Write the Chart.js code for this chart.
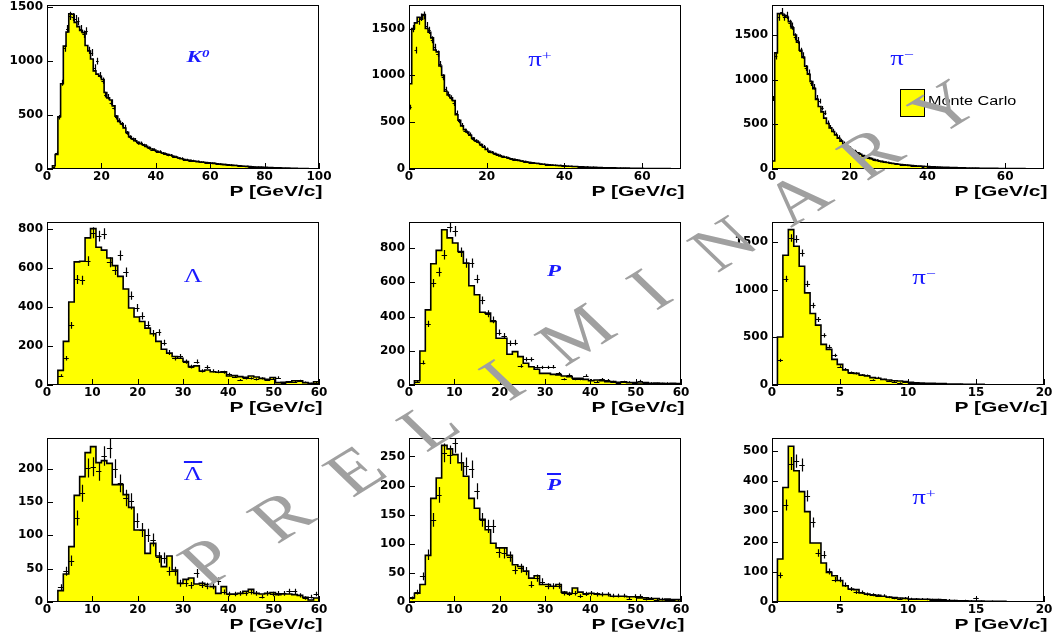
<!DOCTYPE html>
<html>
<head>
<meta charset="utf-8">
<script src="https://cdn.jsdelivr.net/npm/chart.js@4.4.1/dist/chart.umd.min.js"></script>
<style>
    html, body { margin: 0; padding: 0; background: #fff; }
    #page { position: relative; width: 1063px; height: 636px; overflow: hidden; }
    #page canvas { position: absolute; }
    .lbl { position: absolute; color: #1a1aff; line-height: 1; white-space: nowrap;
           transform: translate(-50%, -50%) scaleX(1.35); }
    .kin { font: italic bold 17px "Liberation Serif", serif; }
    .pi  { font: 20px "Liberation Serif", serif; }
    .lam { font: 19px "Liberation Serif", serif; }
    .lbl sup { font-size: 0.65em; vertical-align: 0.45em; line-height: 0; }
    .bar { text-decoration: overline; text-decoration-thickness: 2px; }
    .xt { position: absolute; font: bold 15px "Liberation Sans", Arial, sans-serif; white-space: nowrap;
          transform: translateY(-50%) scaleX(1.4); transform-origin: right center; }
    #mcBox { position: absolute; left: 900px; top: 89px; width: 23px; height: 26px;
             background: #ffff00; border: 1px solid #000; }
    #mcText { position: absolute; left: 928px; top: 101px; font: 12px "Liberation Sans", Arial, sans-serif;
              transform: translateY(-50%) scaleX(1.35); transform-origin: left center; white-space: nowrap; }
    #wm { position: absolute; display: flex; height: 60px; line-height: 60px;
          font: 62px "Liberation Serif", serif; color: #a0a0a0;
          transform: scaleX(1.3) rotate(-38.7deg); transform-origin: center; pointer-events: none; }
    #wm span { display: block; text-align: center; }
</style>
</head>
<body>
<div id="page"></div>
<script>
// ---- 값 (히스토그램 = Monte Carlo, 데이터 = 측정값) ----
const k0Hist = [0,0,30,135,485,790,1140,1270,1440,1435,
    1360,1320,1285,1265,1145,1095,1020,910,880,860,
    830,710,660,640,585,490,440,420,380,340,
    300,280,262,248,235,225,210,198,185,175,
    165,158,148,140,133,127,118,110,102,95,
    88,84,80,76,72,68,65,62,59,57,
    55,52,49,46,43,41,38,36,34,32,
    30,28,26,24,22,21,19,18,17,16,
    15,14,13,12,11,10,9,8,8,7,
    6,6,5,5,4,4,3,3,3,2];
const k0Data = [0,0,20,150,480,800,1120,1300,1420,1410,
    1390,1370,1300,1250,1280,1100,1080,940,1000,870,
    820,690,670,615,570,480,450,415,390,335,
    295,275,270,240,240,220,215,195,180,178,
    160,162,145,142,130,128,115,112,100,98,
    85,86,78,78,70,70,63,63,58,58,
    53,53,48,47,42,42,37,37,33,33,
    29,29,25,25,21,21,18,19,16,17,
    14,15,12,13,10,11,8,9,7,8,
    5,7,4,6,3,5,2,4,2,3];

const pipTopHist = [910,1500,1560,1620,1600,1650,1500,1460,1400,1270,
    1250,1100,1000,830,790,760,730,580,520,460,
    420,395,360,330,305,285,260,235,210,190,
    178,165,155,140,132,126,118,110,103,97,
    90,85,80,74,70,66,62,58,54,50,
    48,46,43,40,38,36,34,32,30,29,
    27,26,24,23,22,20,19,18,17,16,
    15,14,14,13,12,12,11,10,10,9,
    9,8,8,7,7,7,6,6,6,5,
    5,5,4,4,4,4,3,3,3,3];
const pipTopData = [660,1500,1270,1580,1620,1640,1530,1480,1380,1300,
    1230,1120,980,850,800,760,700,600,510,470,
    410,390,370,320,300,290,255,240,215,185,
    180,160,150,145,130,125,120,108,100,95,
    92,83,80,75,68,67,60,60,52,52,
    46,47,42,42,38,38,35,35,31,30,
    28,28,25,26,22,24,20,21,18,18,
    16,16,14,15,13,13,11,12,10,10,
    9,9,8,8,6,8,6,7,5,6,
    5,5,4,4,4,4,3,3,3,3];

const pimTopHist = [90,1300,1740,1740,1720,1700,1650,1580,1500,1420,
    1330,1250,1150,1060,980,900,780,700,640,570,
    510,460,420,380,345,310,280,255,230,210,
    195,180,165,150,138,126,116,106,97,90,
    83,77,72,67,62,58,54,50,47,44,
    41,38,36,34,32,30,28,27,25,24,
    22,21,20,19,18,17,16,15,14,13,
    13,12,11,11,10,10,9,9,8,8,
    7,7,7,6,6,6,5,5,5,4,
    4,4,4,3,3,3,3,3,2,2];
const pimTopData = [790,1260,1700,1760,1700,1720,1630,1600,1480,1440,
    1320,1270,1130,1080,960,920,800,760,680,630,
    520,470,430,390,360,320,290,260,240,215,
    200,175,170,145,140,122,118,104,99,88,
    85,75,73,65,63,57,55,49,48,43,
    42,37,37,31,31,27,28,24,25,21,
    22,19,20,17,18,15,16,13,14,12,
    13,11,11,10,10,9,9,8,8,7,
    7,7,6,6,6,5,5,5,4,4,
    4,4,3,3,3,3,3,2,2,2];

const lamHist = [0,0,75,223,425,630,633,753,800,705,
    690,650,611,556,491,394,348,325,291,262,
    223,183,163,146,137,120,94,98,72,77,
    68,65,67,46,48,43,39,46,41,34,
    29,38,12,14,17,22,21,12,9,17];
const lamData = [0,0,48,137,305,540,536,634,779,762,
    774,628,587,663,577,457,394,354,308,265,
    269,217,166,137,146,120,94,120,72,91,
    72,68,65,55,43,26,34,34,29,34,
    26,33,38,12,15,17,22,14,9,12];

const protHist = [0,25,199,439,708,786,907,859,829,780,
    712,580,527,425,420,371,273,273,180,195,
    166,127,107,92,68,68,62,59,53,49,
    39,39,33,25,29,25,20,20,16,18,
    14,14,12,14,10,12,10,8,10,8];
const protData = [0,20,131,357,595,660,761,923,898,775,
    712,712,619,494,416,380,306,287,244,248,
    111,150,150,107,103,103,107,68,33,59,
    33,33,55,29,20,35,29,20,14,20,
    18,10,25,14,12,10,10,12,8,6];

const pimHist = [0,502,1359,1627,1453,1244,965,749,627,425,
    373,268,216,157,129,122,105,94,77,70,
    59,52,45,42,35,28,24,21,17,17,
    14,14,10,10,10,7,7,7,7,3,
    3,3,3,2,2,2,2,1,1,1];
const pimData = [0,258,1111,1540,1530,1383,1059,833,686,519,
    401,310,192,164,129,122,105,101,52,77,
    59,42,35,24,31,24,17,17,14,10,
    14,10,7,7,10,7,3,7,3,3,
    7,3,3,7,3,2,2,1,2,1];

const alamHist = [0,0,17,42,83,160,188,224,233,209,
    212,208,176,176,161,142,108,108,73,88,
    69,53,69,48,28,34,36,27,28,26,
    23,13,23,12,12,13,16,19,13,12,
    13,14,11,12,12,11,10,7,3,6];
const alamData = [0,0,22,46,62,126,163,201,203,196,
    219,231,200,178,156,151,122,108,100,93,
    67,66,46,46,28,28,25,43,26,24,
    24,31,15,12,12,13,13,15,13,8,
    13,12,13,13,16,16,10,6,8,12];

const aprotHist = [7,15,30,80,178,213,269,263,253,239,
    216,178,161,142,124,101,93,93,80,64,
    61,53,41,45,30,30,27,30,17,15,
    24,17,14,15,14,13,13,10,10,10,
    9,9,7,7,6,6,4,5,4,4];
const aprotData = [7,17,44,81,141,184,256,253,273,241,
    233,228,190,141,130,130,85,84,78,55,
    58,53,30,41,35,27,27,28,15,14,
    15,10,14,15,13,13,13,11,11,11,
    6,10,10,5,6,4,5,3,3,2];

const pipHist = [0,142,379,515,434,365,299,195,195,129,
    98,87,71,54,43,41,30,26,24,22,
    19,16,15,13,12,10,10,9,9,8,
    8,7,5,5,4,4,3,3,3,2,
    2,2,2,1,1,1,1,1,1,1];
const pipData = [0,88,321,458,466,453,351,263,162,156,
    101,74,74,57,43,32,32,26,24,21,
    21,16,13,11,13,11,10,10,9,8,
    8,5,7,5,4,5,4,13,3,2,
    3,2,2,1,2,1,1,1,0,1];

// 패널 순서: K0, pi+, pi- / Lambda, p, pi- / anti-Lambda, anti-p, pi+
const histograms = [k0Hist, pipTopHist, pimTopHist, lamHist, protHist, pimHist, alamHist, aprotHist, pipHist];
const measured   = [k0Data, pipTopData, pimTopData, lamData, protData, pimData, alamData, aprotData, pipData];
const binWidths  = [1.0, 0.7, 0.7, 1.2, 1.2, 0.4, 1.2, 1.2, 0.4];
const xMaxes     = [100, 70, 70, 60, 60, 20, 60, 60, 20];
const yMaxes     = [1521, 1751, 1836, 834, 952, 1707, 246, 281.6, 542.5];
const xSteps     = [20, 20, 20, 10, 10, 5, 10, 10, 5];
const ySteps     = [500, 500, 500, 200, 200, 500, 50, 50, 100];
const particleLabels = ['K<sup>0</sup>', 'π<sup>+</sup>', 'π<sup>−</sup>',
    'Λ', 'P', 'π<sup>−</sup>',
    '<span class="bar">Λ</span>', '<span class="bar">P</span>', 'π<sup>+</sup>'];
const xTitle = 'P [GeV/c]';
const legendText = 'Monte Carlo';
const watermark = 'PRELIMINARY';

// ---- 배치 ----
const colX = [[47, 319], [409, 681], [772, 1044]];
const rowY = [[5, 169], [222, 385], [438, 602]];
const labelPos = [[198, 57], [540, 59], [902, 58], [193, 276], [554, 271], [924, 277], [193, 474], [554, 485], [924, 497]];
const labelCls = ['kin', 'pi', 'pi', 'lam', 'kin', 'pi', 'lam', 'kin', 'pi'];
const AX_W = 46, AX_H = 20, PAD_T = 8, PAD_R = 20;

const page = document.getElementById('page');
const tickFont = { family: '"DejaVu Sans", sans-serif', size: 12, weight: 'bold' };

// 눈금 위치: 0부터 step 간격
function tickValues(max, step) {
    const out = [];
    for (let v = 0; v <= max + 1e-9; v += step) out.push({ value: v });
    return out;
}

// 프레임 + 안쪽 눈금
const frameTicks = {
    id: 'frameTicks',
    afterDraw(chart) {
        const { ctx, chartArea: a, scales } = chart;
        ctx.save();
        ctx.strokeStyle = '#000';
        ctx.lineWidth = 1;
        ctx.strokeRect(a.left + 0.5, a.top + 0.5, a.right - a.left - 1, a.bottom - a.top - 1);
        ctx.beginPath();
        scales.x.ticks.forEach(t => {
            const px = Math.round(scales.x.getPixelForValue(t.value)) + 0.5;
            ctx.moveTo(px, a.bottom);
            ctx.lineTo(px, a.bottom - 6);
        });
        scales.y.ticks.forEach(t => {
            const py = Math.round(scales.y.getPixelForValue(t.value)) + 0.5;
            ctx.moveTo(a.left, py);
            ctx.lineTo(a.left + 6, py);
        });
        ctx.stroke();
        ctx.restore();
    }
};

// 데이터 점: 가로 = bin 폭, 세로 = 통계 오차 (sqrt N)
const errorBars = {
    id: 'errorBars',
    afterDatasetsDraw(chart) {
        const { ctx, chartArea: a, scales: { x, y } } = chart;
        ctx.save();
        ctx.beginPath();
        ctx.rect(a.left, a.top, a.right - a.left, a.bottom - a.top);
        ctx.clip();
        ctx.strokeStyle = '#000';
        ctx.lineWidth = 1.2;
        chart.data.datasets.forEach(ds => {
            if (!ds.binWidth) return;
            ctx.beginPath();
            ds.data.forEach(p => {
                if (p.y <= 0) return;
                const err = Math.sqrt(p.y);
                const xc = Math.round(x.getPixelForValue(p.x)) + 0.5;
                const yc = Math.round(y.getPixelForValue(p.y)) + 0.5;
                ctx.moveTo(x.getPixelForValue(p.x - ds.binWidth / 2), yc);
                ctx.lineTo(x.getPixelForValue(p.x + ds.binWidth / 2), yc);
                ctx.moveTo(xc, y.getPixelForValue(p.y - err));
                ctx.lineTo(xc, y.getPixelForValue(p.y + err));
            });
            ctx.stroke();
        });
        ctx.restore();
    }
};

histograms.forEach((hist, k) => {
    const [l, r] = colX[k % 3];
    const [t, b] = rowY[Math.floor(k / 3)];
    const w = binWidths[k];

    const canvas = document.createElement('canvas');
    canvas.width = (r - l) + AX_W + PAD_R;
    canvas.height = (b - t) + PAD_T + AX_H;
    canvas.style.left = (l - AX_W) + 'px';
    canvas.style.top = (t - PAD_T) + 'px';
    page.appendChild(canvas);

    const histPts = hist.map((v, i) => ({ x: i * w, y: v }));
    histPts.push({ x: hist.length * w, y: hist[hist.length - 1] });
    const dataPts = measured[k].map((v, i) => ({ x: (i + 0.5) * w, y: v }));

    new Chart(canvas, {
        type: 'line',
        data: {
            datasets: [
                { data: dataPts, binWidth: w, showLine: false, pointRadius: 0, order: 1 },
                { data: histPts, stepped: 'before', fill: 'origin', backgroundColor: '#ffff00',
                  borderColor: '#000', borderWidth: 1.6, pointRadius: 0, order: 2 }
            ]
        },
        options: {
            responsive: false,
            animation: false,
            layout: { padding: { top: PAD_T, right: PAD_R, bottom: 0, left: 0 } },
            plugins: { legend: { display: false }, tooltip: { enabled: false } },
            scales: {
                x: {
                    type: 'linear', min: 0, max: xMaxes[k],
                    grid: { display: false, drawTicks: false },
                    border: { display: false },
                    ticks: { autoSkip: false, maxRotation: 0, padding: 1, color: '#000',
                             font: tickFont, callback: v => String(v) },
                    afterBuildTicks(s) { s.ticks = tickValues(xMaxes[k], xSteps[k]); },
                    afterFit(s) { s.height = AX_H; s.paddingLeft = 0; s.paddingRight = 0; }
                },
                y: {
                    type: 'linear', min: 0, max: yMaxes[k],
                    grid: { display: false, drawTicks: false },
                    border: { display: false },
                    ticks: { autoSkip: false, padding: 4, color: '#000', font: tickFont,
                             callback: v => String(v) },
                    afterBuildTicks(s) { s.ticks = tickValues(yMaxes[k], ySteps[k]); },
                    afterFit(s) { s.width = AX_W; s.paddingTop = 0; s.paddingBottom = 0; }
                }
            }
        },
        plugins: [errorBars, frameTicks]
    });

    // 입자 이름
    const lab = document.createElement('div');
    lab.className = 'lbl ' + labelCls[k];
    lab.innerHTML = particleLabels[k];
    lab.style.left = labelPos[k][0] + 'px';
    lab.style.top = labelPos[k][1] + 'px';
    page.appendChild(lab);

    // x축 제목
    const xt = document.createElement('div');
    xt.className = 'xt';
    xt.textContent = xTitle;
    xt.style.right = (1063 - (r + 3)) + 'px';
    xt.style.top = (b + 21) + 'px';
    page.appendChild(xt);
});

// 범례
const mcBox = document.createElement('div');
mcBox.id = 'mcBox';
page.appendChild(mcBox);
const mcText = document.createElement('div');
mcText.id = 'mcText';
mcText.textContent = legendText;
page.appendChild(mcText);

// PRELIMINARY 워터마크
const wm = document.createElement('div');
wm.id = 'wm';
const step = 72.6;
wm.style.width = (watermark.length * step) + 'px';
wm.style.left = (571.5 - watermark.length * step / 2) + 'px';
wm.style.top = (330 - 30) + 'px';
watermark.split('').forEach(ch => {
    const s = document.createElement('span');
    s.style.width = step + 'px';
    s.textContent = ch;
    wm.appendChild(s);
});
page.appendChild(wm);
</script>
</body>
</html>
